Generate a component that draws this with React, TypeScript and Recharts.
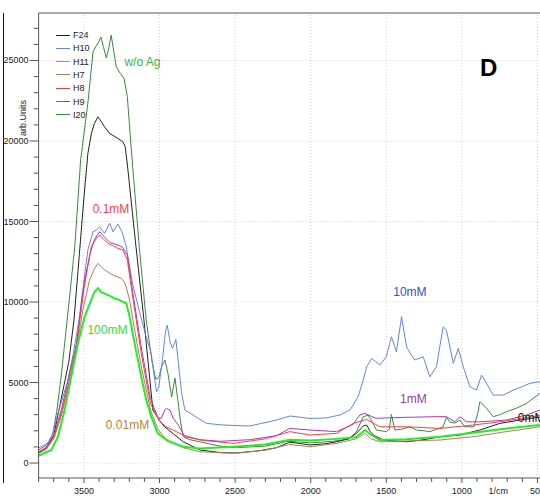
import React from 'react';
import { LineChart, Line, XAxis, YAxis, ReferenceLine, ReferenceDot } from 'recharts';

// [wavenumber (1/cm), intensity (arb. units)]
const I20: [number, number][] = [[3800,800],[3750,1100],[3720,1500],[3705,1860],[3680,3200],[3651,5360],[3611,8880],[3560,13500],[3522,18820],[3474,22360],[3440,25540],[3420,25900],[3400,26200],[3388,26455],[3370,25800],[3352,25150],[3335,25800],[3320,26580],[3300,25400],[3286,24610],[3260,24200],[3235,23900],[3213,22750],[3195,20500],[3176,18200],[3130,13000],[3088,8880],[3050,6300],[3025,5200],[3005,5300],[2985,6000],[2965,6400],[2945,5600],[2920,4100],[2898,5280],[2880,4000],[2860,2500],[2843,1630],[2800,1450],[2733,1320],[2600,1050],[2500,950],[2300,1050],[2150,1350],[2000,1250],[1850,1350],[1750,1500],[1700,1900],[1653,2870],[1620,2980],[1590,2500],[1565,2050],[1500,1950],[1480,2100],[1466,3020],[1443,2050],[1400,2100],[1344,2250],[1300,2050],[1250,2000],[1212,1950],[1124,2250],[1102,2840],[1080,2550],[1047,2480],[1013,2670],[980,2250],[920,2250],[895,3100],[881,3800],[870,3720],[837,3400],[793,2880],[750,3000],[705,3190],[640,3400],[573,3700],[484,4330]];

const F24: [number, number][] = [[3800,650],[3750,950],[3700,1700],[3650,4000],[3600,6300],[3566,8880],[3530,13000],[3500,16500],[3474,19230],[3450,20500],[3430,21100],[3407,21500],[3385,21200],[3364,20880],[3330,20470],[3300,20300],[3275,20160],[3242,19950],[3227,19640],[3209,18200],[3160,13800],[3103,8880],[3044,3290],[3000,2650],[2967,2250],[2900,1750],[2843,1320],[2733,810],[2600,650],[2500,620],[2350,750],[2226,950],[2138,1300],[2005,1120],[1900,1200],[1829,1320],[1750,1500],[1697,1840],[1653,2300],[1630,2360],[1610,2000],[1587,1740],[1520,1430],[1366,1320],[1250,1450],[1145,1630],[1013,1740],[881,2050],[749,2460],[616,2670],[484,2850]];

const H10: [number, number][] = [[3800,930],[3738,1240],[3705,1860],[3672,3100],[3610,5000],[3570,6800],[3533,8880],[3500,11300],[3474,13230],[3440,14370],[3420,14450],[3396,14670],[3364,14260],[3330,14890],[3308,14370],[3275,14840],[3249,14370],[3220,13430],[3180,11200],[3130,9300],[3090,7900],[3055,6810],[3035,5400],[3020,4430],[3005,4700],[2980,6500],[2960,8200],[2949,8570],[2930,7500],[2914,7120],[2892,7680],[2875,6200],[2854,4330],[2832,3290],[2777,2980],[2689,2460],[2579,2360],[2403,2300],[2226,2670],[2138,2920],[2005,2770],[1900,2800],[1807,2980],[1741,3290],[1719,3600],[1686,4120],[1653,5150],[1630,5980],[1597,6500],[1570,6300],[1542,6090],[1500,6600],[1466,7840],[1433,6910],[1399,9090],[1366,7220],[1340,6800],[1311,6400],[1256,6600],[1212,5360],[1168,5980],[1124,8460],[1102,8260],[1057,6190],[1024,7120],[991,5980],[947,4740],[903,4530],[870,5460],[837,4950],[793,4220],[727,4220],[661,4530],[600,4750],[550,4950],[484,5050]];

const H11: [number, number][] = [[3800,450],[3716,810],[3672,1630],[3628,3290],[3584,5360],[3540,7430],[3495,9090],[3470,9700],[3452,10120],[3430,10640],[3407,10850],[3385,10600],[3364,10540],[3320,10330],[3290,10200],[3264,10120],[3240,10000],[3220,9920],[3198,9090],[3165,7430],[3121,5360],[3090,4000],[3055,2880],[3011,1840],[2956,1430],[2931,1320],[2843,1010],[2733,910],[2513,1010],[2300,1150],[2138,1450],[2005,1400],[1829,1500],[1700,1600],[1660,1900],[1640,2050],[1610,1800],[1542,1430],[1366,1470],[1145,1630],[925,1880],[705,2150],[484,2360]];

const H7: [number, number][] = [[3800,600],[3750,850],[3700,1500],[3650,2900],[3600,4800],[3550,7000],[3507,9500],[3463,11360],[3430,12090],[3407,12400],[3364,11990],[3308,11670],[3253,11470],[3227,11160],[3198,10120],[3165,8300],[3121,6000],[3060,3300],[3011,2100],[2960,1500],[2843,950],[2733,700],[2500,600],[2300,800],[2138,1150],[2005,1010],[1829,1220],[1700,1500],[1640,1840],[1600,1500],[1542,1320],[1145,1430],[925,1630],[705,1950],[484,2250]];

const H8: [number, number][] = [[3800,620],[3750,880],[3700,1600],[3650,3100],[3600,5000],[3550,7200],[3500,10800],[3452,13430],[3418,13950],[3396,14160],[3370,13900],[3341,13640],[3300,13450],[3275,13330],[3242,13230],[3213,12600],[3180,10500],[3121,6800],[3060,3700],[3000,2600],[2956,2250],[2843,1740],[2733,1430],[2513,1220],[2300,1500],[2138,1950],[2005,1740],[1829,1840],[1719,2460],[1630,2710],[1542,2250],[1366,2250],[1145,2150],[925,2360],[749,2560],[484,2950]];

const H9: [number, number][] = [[3800,680],[3750,950],[3700,1650],[3650,3300],[3600,5300],[3550,7400],[3500,11100],[3460,13000],[3430,13900],[3396,14370],[3360,14000],[3330,13700],[3275,13540],[3242,13390],[3213,12900],[3180,10800],[3121,7200],[3060,4000],[3010,2800],[2990,2750],[2965,3300],[2954,3400],[2931,3290],[2910,2780],[2876,2360],[2832,1630],[2733,1450],[2600,1350],[2400,1450],[2226,1700],[2138,2150],[2005,2050],[1829,1950],[1720,2400],[1675,2980],[1642,3090],[1600,2900],[1565,2780],[1366,2840],[1145,2880],[1102,2880],[1047,2560],[1013,2880],[969,2560],[881,2560],[705,2670],[573,2980],[484,3290]];

const legendNames = ['F24', 'H10', 'H11', 'H7', 'H8', 'H9', 'I20'];

const xMinorTicks = [3800,3700,3600,3500,3400,3300,3200,3100,3000,2900,2800,2700,2600,2500,2400,2300,2200,2100,2000,1900,1800,1700,1600,1500,1400,1300,1200,1100,1000,900,800,700,600,500];
const xMajorTicks = [3500,3000,2500,2000,1500,1000,500];
const xUnitTick = 760;
const xUnitLabel = '1/cm';
const yMinorTicks = [0,1000,2000,3000,4000,5000,6000,7000,8000,9000,10000,11000,12000,13000,14000,15000,16000,17000,18000,19000,20000,21000,22000,23000,24000,25000,26000,27000];
const yMajorTicks = [0,5000,10000,15000,20000,25000];

const annotations = [
  { text: 'w/o Ag', wn: 3113, v: 24900, color: '#3cb43c' },
  { text: '0.1mM', wn: 3321, v: 15780, color: '#ff4040' },
  { text: '100mM', wn: 3345, v: 8270, color: '#30e030' },
  { text: '0.01mM', wn: 3212, v: 2370, color: '#b8862e' },
  { text: '10mM', wn: 1344, v: 10620, color: '#3050e0' },
  { text: '1mM', wn: 1321, v: 3970, color: '#9a3aa0' },
  { text: '0mM', wn: 542, v: 2800, color: '#111111' },
];

const X_DOMAIN: [number, number] = [470, 3800];
const Y_DOMAIN: [number, number] = [-930, 27950];

const toRows = (pts: [number, number][]) => pts.map(([wn, v]) => ({ wn, v }));

const seriesStyle: Record<string, { color: string; width: number; data: [number, number][] }> = {
  F24: { color: '#222222', width: 1, data: F24 },
  H10: { color: '#6284ea', width: 1, data: H10 },
  H11: { color: '#22ee22', width: 2, data: H11 },
  H7: { color: '#b97a5c', width: 1, data: H7 },
  H8: { color: '#ff3c3c', width: 1, data: H8 },
  H9: { color: '#a836c8', width: 1, data: H9 },
  I20: { color: '#3a8a3a', width: 1, data: I20 },
};
const drawOrder = ['I20', 'F24', 'H10', 'H7', 'H9', 'H8', 'H11'];

const XTick = (props: any) => {
  const { x, y, payload } = props;
  const val = payload.value;
  if (val === xUnitTick) {
    return <text x={x} y={y + 16} textAnchor="middle" fontSize={9} fill="#222">{xUnitLabel}</text>;
  }
  const major = xMajorTicks.includes(val);
  return (
    <g>
      <line x1={x} y1={y} x2={x} y2={y + (major ? 5 : 4)} stroke="#555" />
      {major && <text x={x} y={y + 16} textAnchor="middle" fontSize={9} fill="#222">{val}</text>}
    </g>
  );
};

const YTick = (props: any) => {
  const { x, y, payload } = props;
  const val = payload.value;
  const major = yMajorTicks.includes(val);
  return (
    <g>
      <line x1={x - (major ? 9 : 5)} y1={y} x2={x} y2={y} stroke="#555" />
      {major && <text x={x - 10} y={y + 3} textAnchor="end" fontSize={9} fill="#222">{val}</text>}
    </g>
  );
};

export default function App() {
  return (
    <div style={{ position: 'absolute', left: 0, top: 0, width: 540, height: 500, overflow: 'hidden', background: '#fff', fontFamily: '"Liberation Sans", Arial, sans-serif' }}>
      <div style={{ position: 'absolute', left: 3, top: 13, width: 1, height: 470, background: '#111' }} />
      <LineChart width={570} height={500} margin={{ top: 13, right: 28, bottom: 0, left: 0 }}>
        <XAxis dataKey="wn" type="number" domain={X_DOMAIN} reversed allowDataOverflow ticks={[...xMinorTicks, xUnitTick]} interval={0} tick={<XTick />} tickLine={false} tickSize={0} tickMargin={0} axisLine={{ stroke: '#555' }} height={22} />
        <YAxis type="number" domain={Y_DOMAIN} allowDataOverflow ticks={yMinorTicks} interval={0} tick={<YTick />} tickLine={false} tickSize={0} tickMargin={0} axisLine={{ stroke: '#555' }} width={38.6} />
        {xMajorTicks.map((t) => (
          <ReferenceLine key={'gx' + t} x={t} stroke="#cfcfcf" strokeDasharray="1 2" />
        ))}
        {yMajorTicks.map((t) => (
          <ReferenceLine key={'gy' + t} y={t} stroke="#cfcfcf" strokeDasharray="1 2" />
        ))}
        <ReferenceLine y={Y_DOMAIN[1]} stroke="#555" ifOverflow="visible" />
        {drawOrder.map((k) => (
          <Line key={k} data={toRows(seriesStyle[k].data)} dataKey="v" name={k} type="linear" stroke={seriesStyle[k].color} strokeWidth={seriesStyle[k].width} dot={false} activeDot={false} isAnimationActive={false} />
        ))}
        {annotations.map((a) => (
          <ReferenceDot key={a.text} x={a.wn} y={a.v} r={0} fill="none" stroke="none" label={{ value: a.text, position: 'center', fill: a.color, fontSize: 12 }} />
        ))}
      </LineChart>
      <div style={{ position: 'absolute', left: 5, top: 98, width: 36, height: 40 }}>
        <div style={{ position: 'absolute', left: 18, top: 20, transform: 'translate(-50%, -50%) rotate(-90deg)', fontSize: 9, color: '#222', whiteSpace: 'nowrap' }}>arb.Units</div>
      </div>
      <div style={{ position: 'absolute', left: 480, top: 54, fontSize: 24, fontWeight: 'bold', color: '#000', lineHeight: '28px' }}>D</div>
      {legendNames.map((n, i) => (
        <div key={n} style={{ position: 'absolute', left: 56, top: 35 + i * 13.33 - 6, height: 12, display: 'flex', alignItems: 'center' }}>
          <div style={{ width: 14, height: 1, background: seriesStyle[n].color }} />
          <span style={{ marginLeft: 3, fontSize: 9, color: '#222', lineHeight: '12px' }}>{n}</span>
        </div>
      ))}
    </div>
  );
}
